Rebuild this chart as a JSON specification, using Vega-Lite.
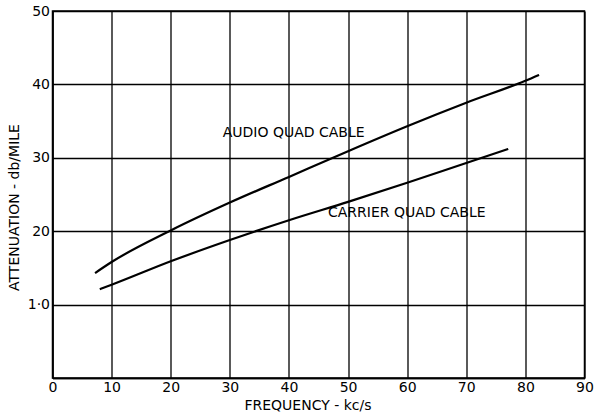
{
  "$schema": "https://vega.github.io/schema/vega-lite/v6.json",
  "width": 532,
  "height": 367,
  "autosize": "none",
  "padding": {"left": 52.5, "top": 11, "right": 10.5, "bottom": 38},
  "background": "white",
  "config": {
    "font": "DejaVu Sans",
    "view": {"stroke": "black", "strokeWidth": 1.5}
  },
  "layer": [
    {
      "data": {
        "values": [
          {"cable": "Audio", "freq": 7.2, "att": 1.43},
          {"cable": "Audio", "freq": 10, "att": 1.58},
          {"cable": "Audio", "freq": 20, "att": 2.01},
          {"cable": "Audio", "freq": 30, "att": 2.39},
          {"cable": "Audio", "freq": 40, "att": 2.74},
          {"cable": "Audio", "freq": 50, "att": 3.09},
          {"cable": "Audio", "freq": 60, "att": 3.43},
          {"cable": "Audio", "freq": 70, "att": 3.75},
          {"cable": "Audio", "freq": 80, "att": 4.05},
          {"cable": "Audio", "freq": 82.3, "att": 4.13},
          {"cable": "Carrier", "freq": 8, "att": 1.21},
          {"cable": "Carrier", "freq": 10, "att": 1.27},
          {"cable": "Carrier", "freq": 20, "att": 1.59},
          {"cable": "Carrier", "freq": 30, "att": 1.88},
          {"cable": "Carrier", "freq": 40, "att": 2.15},
          {"cable": "Carrier", "freq": 50, "att": 2.4},
          {"cable": "Carrier", "freq": 60, "att": 2.66},
          {"cable": "Carrier", "freq": 70, "att": 2.93},
          {"cable": "Carrier", "freq": 77.1, "att": 3.12}
        ]
      },
      "mark": {"type": "line", "interpolate": "monotone", "color": "black", "strokeWidth": 2.2},
      "encoding": {
        "x": {
          "field": "freq",
          "type": "quantitative",
          "scale": {"domain": [0, 90], "nice": false, "zero": false},
          "axis": {
            "values": [0, 10, 20, 30, 40, 50, 60, 70, 80, 90],
            "grid": true,
            "gridColor": "black",
            "gridWidth": 1.3,
            "gridOpacity": 1,
            "ticks": false,
            "domainColor": "black",
            "domainWidth": 1.5,
            "labelPadding": 2,
            "labelFontSize": 14,
            "labelColor": "black",
            "labelFlush": false,
            "title": "FREQUENCY - kc/s",
            "titleFontSize": 14,
            "titleFontWeight": "normal",
            "titleColor": "black",
            "titleX": 255,
            "titlePadding": 4
          }
        },
        "y": {
          "field": "att",
          "type": "quantitative",
          "scale": {"domain": [0, 5], "nice": false},
          "axis": {
            "values": [0, 1, 2, 3, 4, 5],
            "labelExpr": "datum.value == 0 ? '' : (datum.value == 1 ? '1·0' : format(datum.value * 10, 'd'))",
            "grid": true,
            "gridColor": "black",
            "gridWidth": 1.3,
            "gridOpacity": 1,
            "ticks": false,
            "domainColor": "black",
            "domainWidth": 1.5,
            "labelPadding": 3,
            "labelFontSize": 14,
            "labelColor": "black",
            "labelFlush": false,
            "title": "ATTENUATION - db/MILE",
            "titleFontSize": 14,
            "titleFontWeight": "normal",
            "titleColor": "black",
            "titleX": -31.5,
            "titleY": 196
          }
        },
        "detail": {"field": "cable", "type": "nominal"}
      }
    },
    {
      "data": {
        "values": [
          {"label": "AUDIO  QUAD  CABLE", "freq": 28.8, "att": 3.34},
          {"label": "CARRIER  QUAD  CABLE", "freq": 46.6, "att": 2.25}
        ]
      },
      "mark": {"type": "text", "align": "left", "baseline": "middle", "fontSize": 14, "color": "black"},
      "encoding": {
        "x": {"field": "freq", "type": "quantitative"},
        "y": {"field": "att", "type": "quantitative"},
        "text": {"field": "label", "type": "nominal"}
      }
    }
  ]
}
